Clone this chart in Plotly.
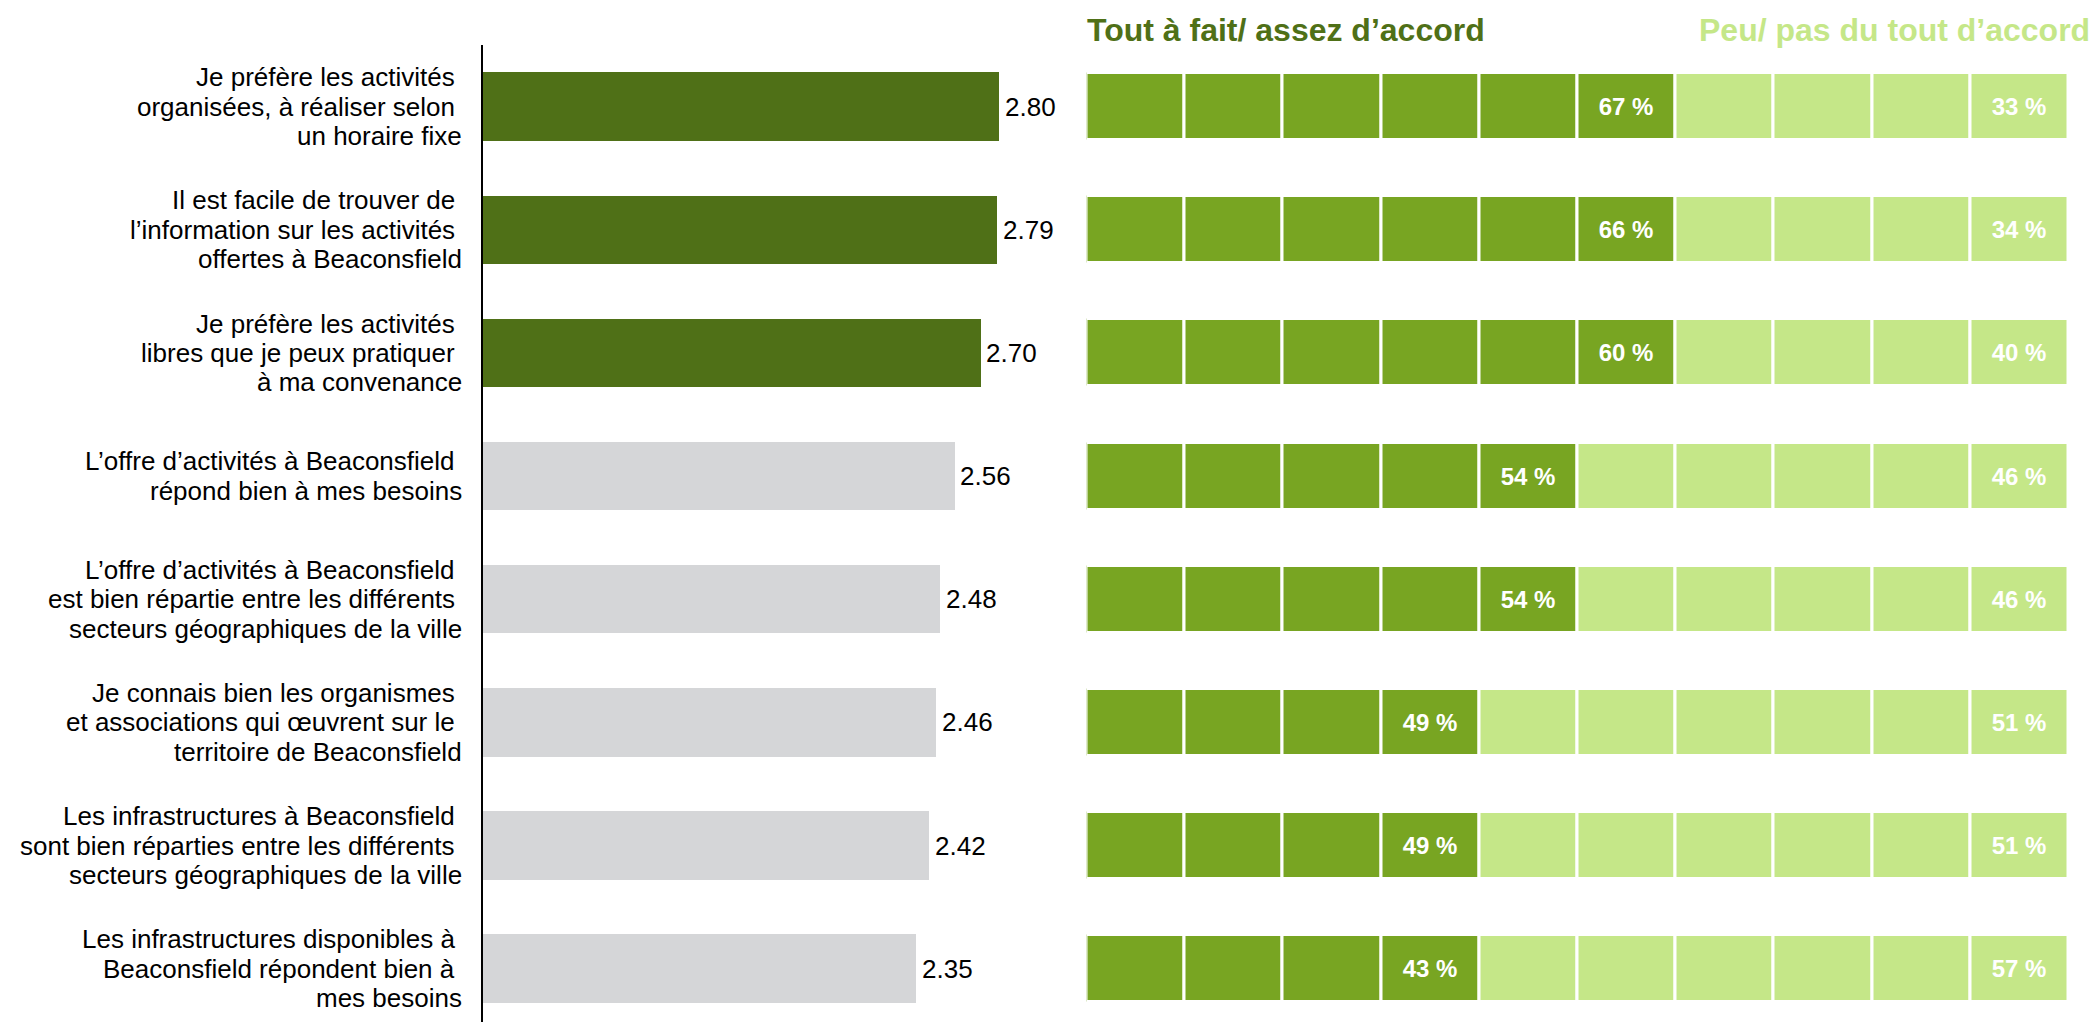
import plotly.graph_objects as go

# ---------------- data ----------------
categories = [
    "Je préfère les activités \norganisées, à réaliser selon \nun horaire fixe",
    "Il est facile de trouver de \nl’information sur les activités \noffertes à Beaconsfield",
    "Je préfère les activités \nlibres que je peux pratiquer \nà ma convenance",
    "L’offre d’activités à Beaconsfield \nrépond bien à mes besoins",
    "L’offre d’activités à Beaconsfield \nest bien répartie entre les différents \nsecteurs géographiques de la ville",
    "Je connais bien les organismes \net associations qui œuvrent sur le \nterritoire de Beaconsfield",
    "Les infrastructures à Beaconsfield \nsont bien réparties entre les différents \nsecteurs géographiques de la ville",
    "Les infrastructures disponibles à \nBeaconsfield répondent bien à \nmes besoins",
]
mean_scores = [2.80, 2.79, 2.70, 2.56, 2.48, 2.46, 2.42, 2.35]
pct_agree = [67, 66, 60, 54, 54, 49, 49, 43]
pct_disagree = [33, 34, 40, 46, 46, 51, 51, 57]
legend_agree = "Tout à fait/ assez d’accord"
legend_disagree = "Peu/ pas du tout d’accord"

# ---------------- style ----------------
W, H = 2094, 1022
FONT = "Arial, 'Liberation Sans', sans-serif"
DARK = "#4F7017"
GREY = "#D5D6D8"
CELL_DARK = "#78A522"
CELL_LIGHT = "#C5E788"
N_HIGHLIGHT = 3

ypos = list(range(len(categories)))

fig = go.Figure()

# left: mean score bars
fig.add_trace(go.Bar(
    x=mean_scores, y=ypos, orientation="h",
    marker=dict(color=[DARK if i < N_HIGHLIGHT else GREY for i in ypos], line=dict(width=0)),
    width=0.556, xaxis="x", yaxis="y", hoverinfo="skip", showlegend=False,
))

# right: pictogram of 10 cells (each 10 %)
for k in range(10):
    colors, texts = [], []
    for a, d in zip(pct_agree, pct_disagree):
        n_dark = a // 10
        colors.append(CELL_DARK if k < n_dark else CELL_LIGHT)
        if k == n_dark - 1:
            texts.append(f"{a} %")
        elif k == 9:
            texts.append(f"{d} %")
        else:
            texts.append("")
    fig.add_trace(go.Bar(
        x=[10] * len(ypos), base=[10 * k] * len(ypos), y=ypos, orientation="h",
        marker=dict(color=colors, line=dict(color="white", width=3)),
        width=0.544, text=texts, textposition="inside", insidetextanchor="middle",
        textangle=0, constraintext="none",
        textfont=dict(family=FONT, size=24, color="white", weight="bold"),
        xaxis="x2", yaxis="y", hoverinfo="skip", showlegend=False,
    ))

annotations = []
# category labels, one annotation per line
LINE = 29.3
for r, cat in enumerate(categories):
    lines = cat.split("\n")
    n = len(lines)
    for i, ln in enumerate(lines):
        annotations.append(dict(
            x=464 / W, xref="paper", y=r, yref="y",
            xanchor="right", yanchor="middle",
            yshift=-(i - (n - 1) / 2) * LINE,
            text=ln.replace(" ", "\u00a0") if ln.endswith(" ") else ln,
            showarrow=False, font=dict(family=FONT, size=26, color="black"),
        ))
# value labels
for r, v in enumerate(mean_scores):
    annotations.append(dict(
        x=v, xref="x", y=r, yref="y", xanchor="left", yanchor="middle", xshift=4,
        text=f"{v:.2f}", showarrow=False, font=dict(family=FONT, size=26, color="black"),
    ))
# headers
annotations.append(dict(
    x=1085 / W, xref="paper", y=1 - 30 / H, yref="paper", xanchor="left", yanchor="middle",
    text=f"<b>{legend_agree}</b>", showarrow=False, font=dict(family=FONT, size=32, color=DARK),
))
annotations.append(dict(
    x=1697 / W, xref="paper", y=1 - 30 / H, yref="paper", xanchor="left", yanchor="middle",
    text=f"<b>{legend_disagree}</b>", showarrow=False, font=dict(family=FONT, size=32, color=CELL_LIGHT),
))

x0 = 482.6
ppu = 184.3
xmax = 3.2
fig.update_layout(
    width=W, height=H, autosize=False,
    margin=dict(l=0, r=0, t=0, b=0),
    paper_bgcolor="white", plot_bgcolor="white",
    barmode="overlay", bargap=0,
    xaxis=dict(domain=[x0 / W, (x0 + xmax * ppu) / W], range=[0, xmax], visible=False, fixedrange=True),
    xaxis2=dict(domain=[1086.5 / W, 2068.5 / W], range=[0, 100], visible=False, anchor="y", fixedrange=True),
    yaxis=dict(domain=[0, 1 - 45 / H], range=[7.433, -0.5], showticklabels=False, ticks="",
               showgrid=False, zeroline=False, showline=True, linecolor="black", linewidth=2,
               anchor="x", fixedrange=True),
    annotations=annotations,
    font=dict(family=FONT),
)

fig.write_html(
    "out.html",
    config={"displayModeBar": False},
    post_script="document.body.style.margin='0';document.body.style.overflow='hidden';",
)
